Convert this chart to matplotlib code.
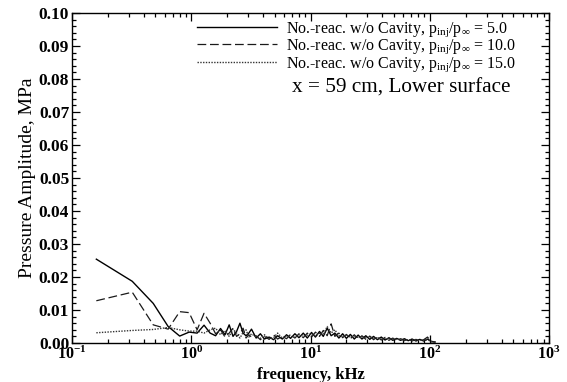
import matplotlib
matplotlib.use("Agg")
import matplotlib.pyplot as plt
from matplotlib.ticker import MultipleLocator, LogLocator, NullFormatter

plt.rcParams['font.family'] = ['Liberation Serif', 'DejaVu Serif']
plt.rcParams['mathtext.fontset'] = 'custom'
plt.rcParams['mathtext.rm'] = 'Liberation Serif'
plt.rcParams['mathtext.it'] = 'Liberation Serif:italic'
plt.rcParams['mathtext.bf'] = 'Liberation Serif:bold'

# ---- data ----
freq_low = [0.16, 0.32, 0.48, 0.64, 0.80, 0.96, 1.12, 1.28, 1.44, 1.60,
            1.76, 1.92, 2.08, 2.24, 2.40, 2.56, 2.72, 2.88, 3.04, 3.20]
freq_high = [3.5, 3.8, 4.1, 4.5, 4.9, 5.3, 5.8, 6.3, 6.8, 7.4,
             8.0, 8.7, 9.4, 10.2, 11.0, 11.9, 12.8, 13.8, 14.9, 16.0,
             17.3, 18.6, 20.0, 21.6, 23.3, 25.1, 27.0, 29.1, 31.4, 33.8,
             36.4, 39.2, 42.2, 45.5, 49.0, 52.8, 56.9, 61.3, 66.0, 71.1,
             76.6, 82.5, 88.9, 95.8, 103.0, 111.0]

amp_5_low = [0.0254, 0.0187, 0.0120, 0.0050, 0.0021, 0.0033, 0.0030, 0.0054, 0.0030, 0.0022,
             0.0044, 0.0025, 0.0055, 0.0020, 0.0035, 0.0060, 0.0030, 0.0022, 0.0030, 0.0042]
amp_5_high = [0.0015, 0.0028, 0.0012, 0.0018, 0.0010, 0.0022, 0.0012, 0.0025, 0.0014, 0.0028,
              0.0016, 0.0030, 0.0015, 0.0032, 0.0018, 0.0035, 0.0020, 0.0045, 0.0022, 0.0030,
              0.0015, 0.0028, 0.0014, 0.0026, 0.0012, 0.0024, 0.0012, 0.0022, 0.0011, 0.0020,
              0.0010, 0.0018, 0.0009, 0.0016, 0.0008, 0.0014, 0.0008, 0.0013, 0.0007, 0.0012,
              0.0006, 0.0011, 0.0006, 0.0012, 0.0005, 0.0003]

amp_10_low = [0.0128, 0.0154, 0.0055, 0.0042, 0.0095, 0.0092, 0.0040, 0.0090, 0.0060, 0.0028,
              0.0040, 0.0018, 0.0030, 0.0045, 0.0020, 0.0028, 0.0045, 0.0015, 0.0025, 0.0018]
amp_10_high = [0.0022, 0.0010, 0.0020, 0.0011, 0.0025, 0.0012, 0.0020, 0.0013, 0.0026, 0.0015,
               0.0028, 0.0016, 0.0030, 0.0018, 0.0033, 0.0020, 0.0038, 0.0022, 0.0058, 0.0020,
               0.0030, 0.0016, 0.0026, 0.0013, 0.0025, 0.0012, 0.0022, 0.0011, 0.0021, 0.0010,
               0.0019, 0.0009, 0.0017, 0.0008, 0.0015, 0.0007, 0.0013, 0.0007, 0.0012, 0.0006,
               0.0011, 0.0006, 0.0010, 0.0018, 0.0004, 0.0003]

amp_15_low = [0.0031, 0.0038, 0.0041, 0.0047, 0.0040, 0.0036, 0.0036, 0.0030, 0.0040, 0.0045,
              0.0025, 0.0038, 0.0020, 0.0042, 0.0030, 0.0015, 0.0032, 0.0040, 0.0018, 0.0028]
amp_15_high = [0.0018, 0.0014, 0.0025, 0.0013, 0.0016, 0.0030, 0.0015, 0.0022, 0.0020, 0.0017,
               0.0025, 0.0021, 0.0024, 0.0028, 0.0022, 0.0030, 0.0025, 0.0050, 0.0030, 0.0040,
               0.0022, 0.0020, 0.0024, 0.0018, 0.0020, 0.0017, 0.0019, 0.0016, 0.0018, 0.0015,
               0.0016, 0.0013, 0.0014, 0.0012, 0.0012, 0.0011, 0.0011, 0.0010, 0.0010, 0.0009,
               0.0009, 0.0008, 0.0008, 0.0010, 0.0004, 0.0003]

labels = [r'No.-reac. w/o Cavity, p$_{\rm inj}$/p$_{\infty}$ = 5.0',
          r'No.-reac. w/o Cavity, p$_{\rm inj}$/p$_{\infty}$ = 10.0',
          r'No.-reac. w/o Cavity, p$_{\rm inj}$/p$_{\infty}$ = 15.0']

freq = freq_low + freq_high
series = [amp_5_low + amp_5_high, amp_10_low + amp_10_high, amp_15_low + amp_15_high]
styles = [dict(ls='-', lw=1.0, color='black'),
          dict(ls=(0, (7, 3)), lw=0.9, color='#1a1a1a'),
          dict(ls=(0, (1, 1)), lw=1.0, color='#333333')]

fig = plt.figure(figsize=(5.67, 3.82), dpi=100)
ax = fig.add_axes([72/567, 1-343/382, (549-72)/567, (343-13)/382])

for vals, st, lab in zip(series, styles, labels):
    ax.plot(freq, vals, label=lab, **st)

ax.set_xscale('log')
ax.set_xlim(0.1, 1000)
ax.set_ylim(0.0, 0.10)
ax.yaxis.set_minor_locator(MultipleLocator(0.002))
ax.xaxis.set_minor_locator(LogLocator(base=10, subs=range(2, 10), numticks=20))
ax.xaxis.set_minor_formatter(NullFormatter())
ax.set_xticks([0.1, 1, 10, 100, 1000])
ax.set_xticklabels([r'$\mathbf{10^{-1}}$', r'$\mathbf{10^{0}}$', r'$\mathbf{10^{1}}$',
                    r'$\mathbf{10^{2}}$', r'$\mathbf{10^{3}}$'], fontsize=11.5)
ax.set_yticks([i * 0.01 for i in range(11)])
ax.set_yticklabels(['%.2f' % (i * 0.01) for i in range(11)], fontweight='bold', fontsize=12.5)

ax.tick_params(which='both', direction='in', top=True, right=True, width=0.9)
ax.tick_params(which='major', length=6)
ax.tick_params(which='minor', length=3)
ax.tick_params(axis='x', pad=2)
ax.tick_params(axis='y', pad=2)
for s in ax.spines.values():
    s.set_linewidth(1.0)

ax.set_xlabel('frequency, kHz', fontsize=12, fontweight='bold', labelpad=3)
ax.set_ylabel('Pressure Amplitude, MPa', fontsize=14, labelpad=2)

ax.legend(loc='upper left', bbox_to_anchor=(0.262, 0.978), frameon=False,
          fontsize=11.5, handlelength=5.0, handletextpad=0.6, labelspacing=-0.08,
          borderpad=0, borderaxespad=0)
ax.text(0.461, 0.772, 'x = 59 cm, Lower surface', transform=ax.transAxes,
        fontsize=15.3, va='center', ha='left')

fig.savefig('out.png', dpi=100)
